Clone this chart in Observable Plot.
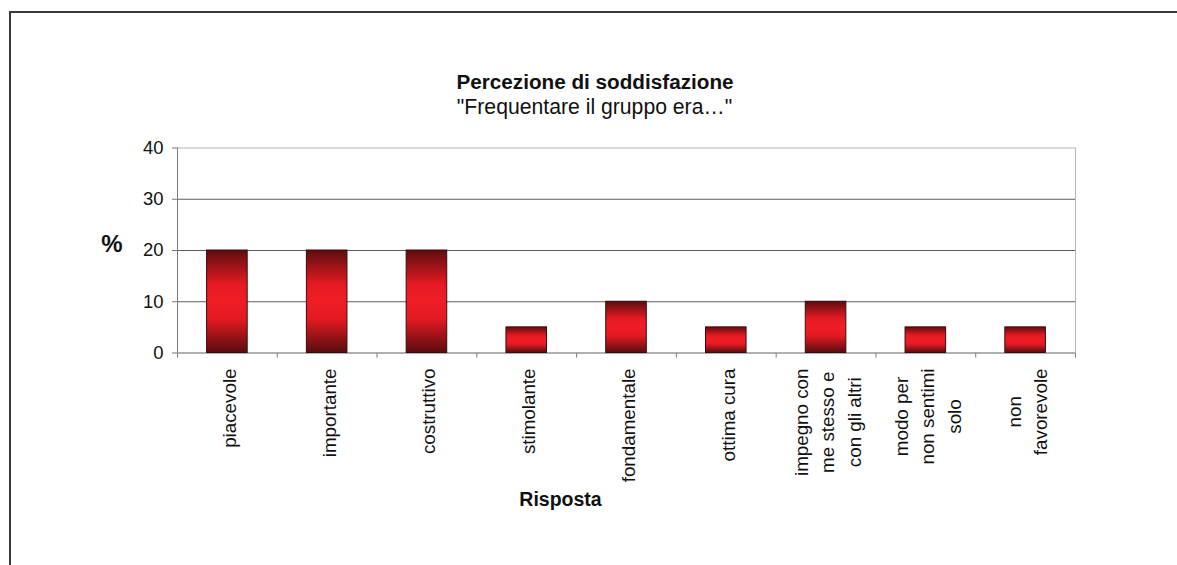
<!DOCTYPE html>
<html>
<head>
<meta charset="utf-8">
<script src="https://cdn.jsdelivr.net/npm/d3@7"></script>
<script src="https://cdn.jsdelivr.net/npm/@observablehq/plot@0.6"></script>
<style>
  html, body { margin: 0; padding: 0; background: #fff; overflow: hidden; }
  #wrap { position: relative; width: 1177px; height: 565px; }
  #border {
    position: absolute; left: 9px; top: 11px; width: 1400px; height: 800px;
    border-left: 2px solid #3b3b3b; border-top: 2px solid #3b3b3b;
    pointer-events: none;
  }
  #chart { position: absolute; left: 0; top: 0; }
  #chart svg g[aria-label="x-axis tick"] path,
  #chart svg g[aria-label="y-axis tick"] path { stroke: #777; }
</style>
</head>
<body>
<div id="wrap">
  <div id="chart"></div>
  <div id="border"></div>
</div>
<script>
// Survey answers: "Frequentare il gruppo era..."
const categories = [
  "piacevole",
  "importante",
  "costruttivo",
  "stimolante",
  "fondamentale",
  "ottima cura",
  "impegno con\nme stesso e\ncon gli altri",
  "modo per\nnon sentimi\nsolo",
  "non\nfavorevole"
];
const percentages = [20, 20, 20, 5, 10, 5, 10, 5, 5];
const yTicks = [0, 10, 20, 30, 40];
const gridValues = [10, 20, 30];

const titleText = "Percezione di soddisfazione";
const subtitleText = "\"Frequentare il gruppo era\u2026\"";
const yLabel = "%";
const xLabel = "Risposta";

const FONT = "'Liberation Sans', Arial, Helvetica, sans-serif";
const LABEL_SIZE = 18.8;

const rows = categories.map((c, i) => ({ i, label: c, value: percentages[i] }));

// Measure the longest line of each category label so the rotated
// multi-line blocks can hang from the axis with centred lines.
const ctx = document.createElement("canvas").getContext("2d");
ctx.font = `${LABEL_SIZE}px ${FONT}`;
const longest = (s) => d3.max(s.split("\n"), (l) => ctx.measureText(l).width);

const labelMarks = rows.map((r) =>
  Plot.text([r], {
    x: (d) => d.i + 0.5,
    text: "label",
    frameAnchor: "bottom",
    rotate: -90,
    textAnchor: "middle",
    lineAnchor: "middle",
    lineHeight: 1.4,
    dy: 15.5 + longest(r.label) / 2,
    fontSize: LABEL_SIZE,
    fill: "#111"
  })
);

const svg = Plot.plot({
  width: 1177,
  height: 565,
  marginTop: 147.5,
  marginBottom: 212.5,
  marginLeft: 177,
  marginRight: 102,
  style: { fontFamily: FONT, fontSize: "18.5px", color: "#111", background: "transparent" },
  x: {
    type: "linear",
    domain: [0, categories.length],
    ticks: categories.length + 1,
    tickSize: 5,
    tickFormat: () => "",
    label: null
  },
  y: {
    domain: [0, 40],
    ticks: yTicks,
    tickSize: 5,
    tickPadding: 9,
    label: null
  },
  marks: [
    Plot.frame({ stroke: "#b4b4b4" }),
    Plot.ruleY(gridValues, { stroke: "#5e5e5e", strokeWidth: 1 }),
    Plot.ruleY([0], { stroke: "#888" }),
    Plot.ruleX([0], { stroke: "#7a7a7a" }),
    Plot.rectY(rows, {
      x1: (d) => d.i,
      x2: (d) => d.i + 1,
      y: "value",
      insetLeft: 29.6,
      insetRight: 29.6,
      fill: "url(#barFill)",
      stroke: "#3a0b0c",
      strokeWidth: 1
    }),
    ...labelMarks,
    Plot.text([titleText], {
      frameAnchor: "top", dx: -31.5, dy: 82 - 147.5,
      fontSize: 20.7, fontWeight: "bold", fill: "#111", lineAnchor: "middle"
    }),
    Plot.text([subtitleText], {
      frameAnchor: "top", dx: -32, dy: 107 - 147.5,
      fontSize: 21.2, fill: "#111", lineAnchor: "middle"
    }),
    Plot.text([yLabel], {
      frameAnchor: "left", dx: -55, dy: -6.5,
      fontSize: 24, fontWeight: "bold", fill: "#111", lineAnchor: "middle",
      textAnchor: "end"
    }),
    Plot.text([xLabel], {
      frameAnchor: "bottom", dx: -66, dy: 146.5,
      fontSize: 19.5, fontWeight: "bold", fill: "#111", lineAnchor: "middle"
    })
  ]
});

// Vertical shading of the bars: dark at both ends, bright red in the middle.
const grad = d3.select(svg).insert("defs", ":first-child")
  .append("linearGradient")
  .attr("id", "barFill")
  .attr("x1", 0).attr("y1", 0).attr("x2", 0).attr("y2", 1);
[
  [0, "#5c0d10"],
  [0.33, "#e41a22"],
  [0.5, "#f01d26"],
  [0.67, "#e41a22"],
  [1, "#580c0f"]
].forEach(([o, c]) => grad.append("stop").attr("offset", o).attr("stop-color", c));

document.getElementById("chart").appendChild(svg);
</script>
</body>
</html>
